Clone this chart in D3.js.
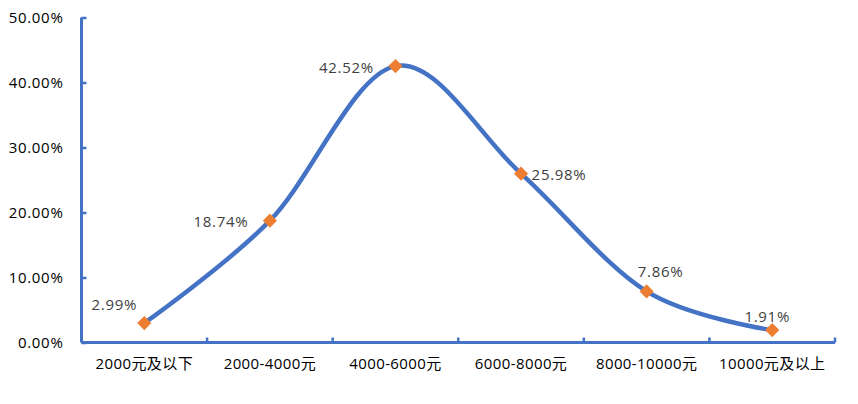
<!DOCTYPE html>
<html><head><meta charset="utf-8">
<script src="https://cdn.jsdelivr.net/npm/d3@7"></script>
<style>body{margin:0;background:#fff;} svg{display:block;}</style>
</head><body><svg id="c" width="858" height="404"></svg>
<script>
const categories = ["2000元及以下","2000-4000元","4000-6000元","6000-8000元","8000-10000元","10000元及以上"];
const values = [2.99, 18.74, 42.52, 25.98, 7.86, 1.91];
const yTicks = [0,10,20,30,40,50];

// label offsets relative to each point (layout only)
const labelOffsets = [[-30,-13],[-49,6],[-49,7],[38,6],[14,-14],[-5,-8]];

const svg = d3.select("#c");
const m = {l:81.5, r:835, t:17.5, b:342.5};
const x = d3.scaleBand().domain(categories).range([m.l, m.r]);
const y = d3.scaleLinear().domain([0,50]).range([m.b, m.t]);
const blue = "#4472C4", orange = "#ED7D31";
const font = "'Open Sans','Noto Sans CJK SC',sans-serif";

// y axis
const ya = svg.append("g").attr("transform",`translate(${m.l},0)`)
  .call(d3.axisLeft(y).tickValues(yTicks).tickSize(-5).tickPadding(18).tickFormat(d=>d.toFixed(2)+"%"));
ya.select(".domain").attr("stroke",blue).attr("stroke-width",3).attr("d",`M0,${m.t}V${m.b}`);
ya.selectAll(".tick line").attr("stroke",blue).attr("stroke-width",2.5);
ya.selectAll("text").attr("font-size",15).attr("fill","#000").attr("font-family",font).attr("letter-spacing",0.7);

// x axis
const xa = svg.append("g").attr("transform",`translate(0,${m.b})`)
  .call(d3.axisBottom(x).tickSize(0).tickPadding(16));
xa.select(".domain").attr("stroke",blue).attr("stroke-width",3).attr("d",`M${m.l},0H${m.r}`);
xa.selectAll("text").attr("font-size",15).attr("fill","#000").attr("font-family",font).attr("letter-spacing",0.4);
const bounds = categories.map(c=>x(c)+x.bandwidth());
svg.append("g").selectAll("line").data(bounds).join("line")
  .attr("x1",d=>d).attr("x2",d=>d).attr("y1",m.b).attr("y2",m.b-5)
  .attr("stroke",blue).attr("stroke-width",2.5);

const pts = values.map((v,i)=>[x(categories[i])+x.bandwidth()/2, y(v)]);
svg.append("path").attr("d", d3.line().curve(d3.curveCardinal.tension(0))(pts))
  .attr("fill","none").attr("stroke",blue).attr("stroke-width",4.5).attr("stroke-linecap","round");

svg.append("g").selectAll("path").data(pts).join("path")
  .attr("d", d3.symbol(d3.symbolSquare, 100)())
  .attr("transform", d=>`translate(${d[0]},${d[1]}) rotate(45)`)
  .attr("fill", orange);

svg.append("g").selectAll("text").data(values).join("text")
  .attr("x",(d,i)=>pts[i][0]+labelOffsets[i][0])
  .attr("y",(d,i)=>pts[i][1]+labelOffsets[i][1])
  .attr("text-anchor","middle")
  .attr("font-size",15).attr("fill","#404040").attr("font-family",font).attr("letter-spacing",0.7)
  .text(d=>d.toFixed(2)+"%");
</script></body></html>
